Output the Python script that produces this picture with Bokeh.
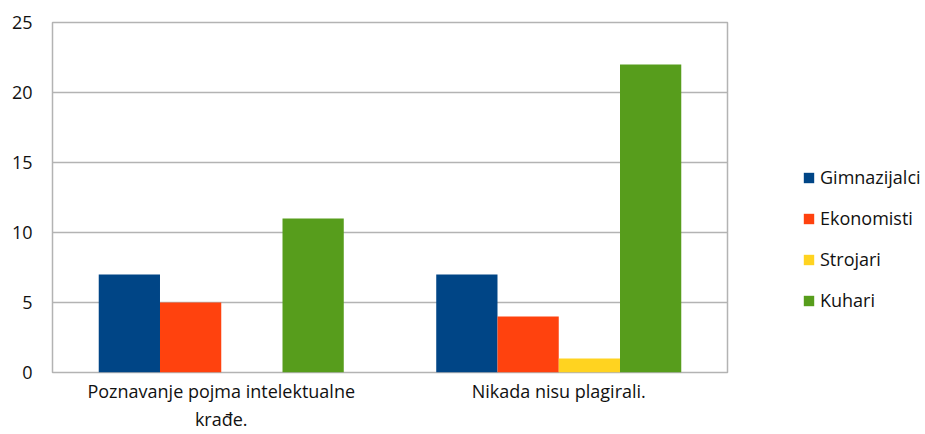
from bokeh.plotting import figure
from bokeh.models import Legend, LegendItem, FixedTicker, Range1d
from bokeh.layouts import row
from bokeh.embed import file_html
from bokeh.resources import INLINE

categories = ["Poznavanje pojma intelektualne\nkrađe.", "Nikada nisu plagirali."]
series_names = ["Gimnazijalci", "Ekonomisti", "Strojari", "Kuhari"]
gimnazijalci = [7, 7]
ekonomisti = [5, 4]
strojari = [0, 1]
kuhari = [11, 22]
colors = ["#004586", "#ff420e", "#ffd320", "#579d1c"]
y_ticks = [0, 5, 10, 15, 20, 25]

values = [gimnazijalci, ekonomisti, strojari, kuhari]
FONT = "Open Sans"

p = figure(width=740, height=434, output_backend="svg", toolbar_location=None,
           x_range=Range1d(0, len(categories)), y_range=Range1d(0, 25))
p.min_border_left = 52
p.min_border_top = 22
p.min_border_bottom = 62
p.min_border_right = 13
p.outline_line_color = "#b3b3b3"
p.outline_line_width = 1.5
p.background_fill_color = "white"
p.border_fill_color = "white"

bar_w = 0.1815
offsets = [-1.5, -0.5, 0.5, 1.5]
for name, vals, col, off in zip(series_names, values, colors, offsets):
    xs = [i + 0.5 + off * bar_w for i in range(len(categories))]
    p.vbar(x=xs, top=vals, width=bar_w, bottom=0, fill_color=col, line_color=None)

p.xgrid.visible = False
p.ygrid.grid_line_color = "#b3b3b3"
p.ygrid.grid_line_width = 1.5
p.yaxis.ticker = FixedTicker(ticks=y_ticks)
p.xaxis.ticker = FixedTicker(ticks=[i + 0.5 for i in range(len(categories))])
p.xaxis.major_label_overrides = {i + 0.5: c for i, c in enumerate(categories)}

for ax in (p.xaxis[0], p.yaxis[0]):
    ax.axis_line_color = None
    ax.major_tick_line_color = None
    ax.minor_tick_line_color = None
    ax.major_label_text_font = FONT
    ax.major_label_text_font_size = "18px"
    ax.major_label_text_color = "#111111"
p.yaxis.major_label_standoff = 14
p.xaxis.major_label_standoff = 0

# legend panel
lp = figure(width=185, height=434, output_backend="svg", toolbar_location=None,
            x_axis_type=None, y_axis_type=None, x_range=Range1d(0, 1), y_range=Range1d(0, 1))
lp.min_border = 0
lp.outline_line_color = None
lp.grid.visible = False
items = []
for name, col in zip(series_names, colors):
    r = lp.vbar(x=[0.5], top=[0], bottom=0, width=0.0, fill_color=col, line_color=None)
    items.append(LegendItem(label=name, renderers=[r]))

legend = Legend(items=items, location=(62, 60), orientation="vertical")
legend.border_line_color = None
legend.background_fill_alpha = 0
legend.padding = 0
legend.margin = 0
legend.spacing = 17
legend.glyph_width = 13
legend.glyph_height = 13
legend.label_height = 20
legend.label_standoff = 5
legend.label_text_font = FONT
legend.label_text_font_size = "18px"
legend.label_text_color = "#111111"
lp.add_layout(legend, "center")

layout = row(p, lp)
open("out.html", "w").write(file_html(layout, INLINE))
